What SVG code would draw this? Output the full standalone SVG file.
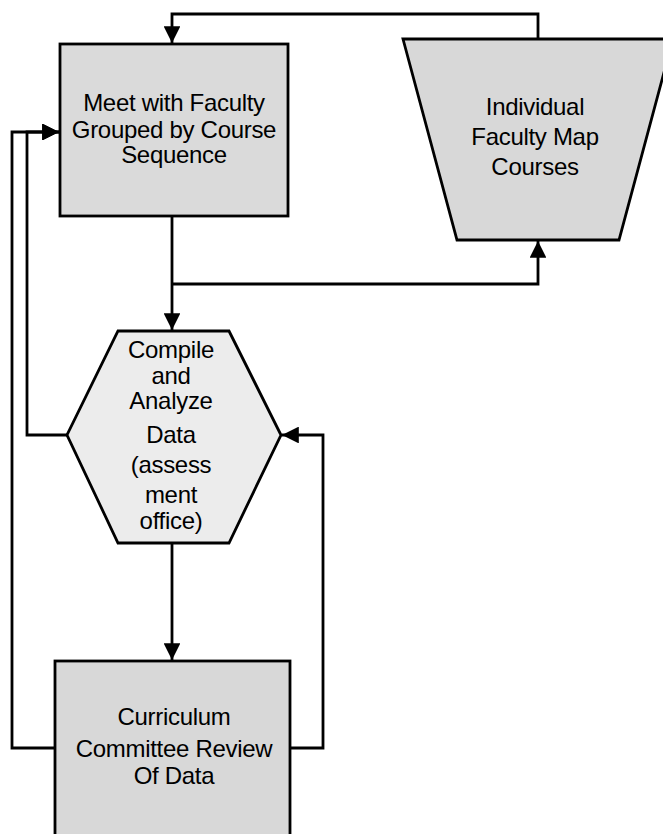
<svg xmlns="http://www.w3.org/2000/svg" width="663" height="834" viewBox="0 0 663 834">
<style>
.node{stroke:#000;stroke-width:2.8}
.lbl{font-family:"Liberation Sans",Arial,sans-serif;font-size:24px;fill:#000;text-anchor:middle;letter-spacing:-0.3px}
.c{fill:none;stroke:#000;stroke-width:2.8}
</style>
<defs>
<marker id="ah" viewBox="0 0 10 10" refX="10" refY="5" markerWidth="6.5" markerHeight="6" orient="auto" markerUnits="strokeWidth">
<path d="M0,0 L10,5 L0,10 Z" fill="#000"/>
</marker>
</defs>
<rect width="663" height="834" fill="#fff"/>
<g id="connectors">
<path class="c" d="M538,39 V14 H172 V43" marker-end="url(#ah)"/>
<path class="c" d="M172,215 V330" marker-end="url(#ah)"/>
<path class="c" d="M172,284 H538 V241" marker-end="url(#ah)"/>
<path class="c" d="M67,435 H27 V132 H59" marker-end="url(#ah)"/>
<path class="c" d="M55,748 H12 V132 H59" marker-end="url(#ah)"/>
<path class="c" d="M172,543 V660" marker-end="url(#ah)"/>
<path class="c" d="M290,748 H323 V435 H282" marker-end="url(#ah)"/>
</g>
<g id="meet">
<rect class="node" x="60" y="44" width="228" height="172" fill="#dadada"/>
<text class="lbl" x="174" y="111">Meet with Faculty</text>
<text class="lbl" x="174" y="138">Grouped by Course</text>
<text class="lbl" x="174" y="163">Sequence</text>
</g>
<g id="individual">
<polygon class="node" points="403,39 673,39 619,240 457,240" fill="#d8d8d8"/>
<text class="lbl" x="535" y="115">Individual</text>
<text class="lbl" x="535" y="145">Faculty Map</text>
<text class="lbl" x="535" y="175">Courses</text>
</g>
<g id="compile">
<polygon class="node" points="118,331 229,331 281,435 229,543 118,543 67,435" fill="#ececec"/>
<text class="lbl" x="171" y="358">Compile</text>
<text class="lbl" x="171" y="384">and</text>
<text class="lbl" x="171" y="409">Analyze</text>
<text class="lbl" x="171" y="443">Data</text>
<text class="lbl" x="171" y="473">(assess</text>
<text class="lbl" x="171" y="503">ment</text>
<text class="lbl" x="171" y="529">office)</text>
</g>
<g id="curriculum">
<rect class="node" x="55" y="661" width="235" height="180" fill="#d8d8d8"/>
<text class="lbl" x="174" y="725">Curriculum</text>
<text class="lbl" x="174" y="757">Committee Review</text>
<text class="lbl" x="174" y="784">Of Data</text>
</g>
</svg>
